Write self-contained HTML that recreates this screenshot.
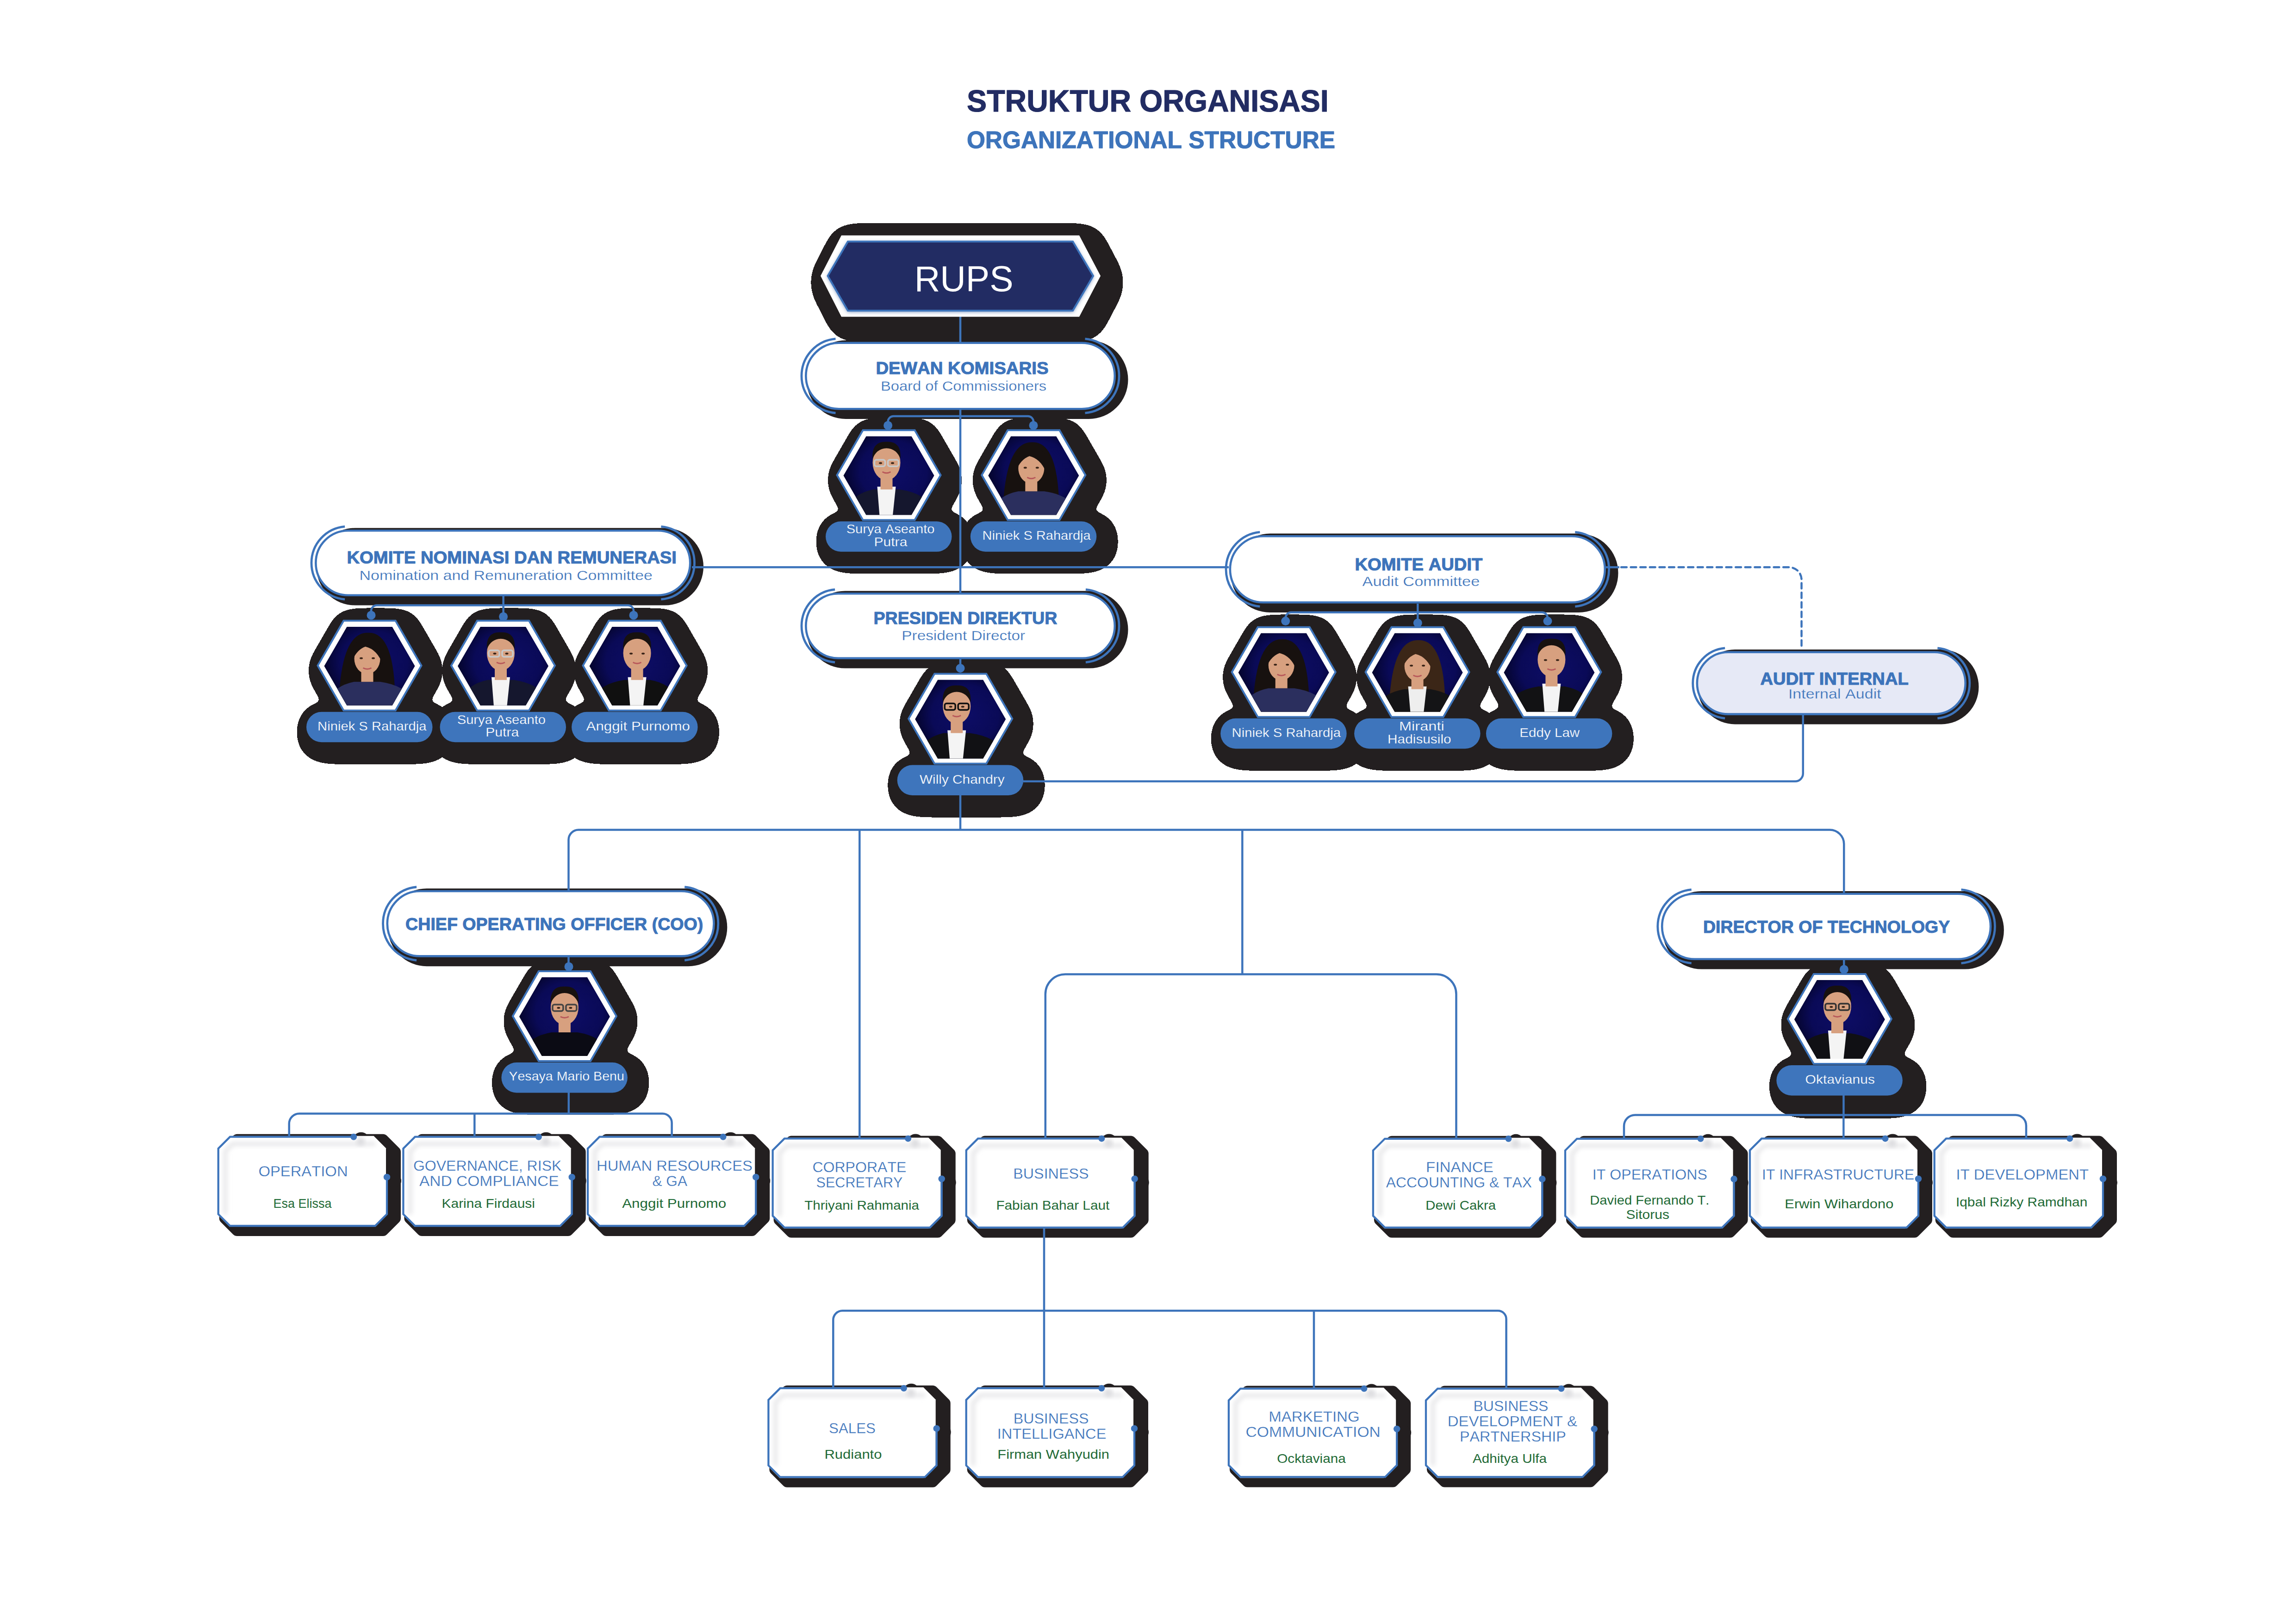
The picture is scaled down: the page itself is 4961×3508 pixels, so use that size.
<!DOCTYPE html>
<html><head><meta charset="utf-8"><title>Struktur Organisasi</title>
<style>html,body{margin:0;padding:0;background:#fff;width:4961px;height:3508px;overflow:hidden}svg{display:block}svg text{font-family:"Liberation Sans",sans-serif}</style>
</head><body>
<svg width="4961" height="3508" viewBox="0 0 4961 3508" font-family="Liberation Sans, sans-serif" style="font-kerning:none">
<defs><clipPath id="ph1"><polygon points="2018.5,1027.3 1969.5,1112.2 1871.5,1112.2 1822.5,1027.3 1871.5,942.4 1969.5,942.4"/></clipPath><clipPath id="ph2"><polygon points="2331.3,1027.3 2282.3,1112.2 2184.3,1112.2 2135.3,1027.3 2184.3,942.4 2282.3,942.4"/></clipPath><clipPath id="ph3"><polygon points="896.5,1438.8 847.5,1523.7 749.5,1523.7 700.5,1438.8 749.5,1353.9 847.5,1353.9"/></clipPath><clipPath id="ph4"><polygon points="1185,1438.8 1136,1523.7 1038,1523.7 989,1438.8 1038,1353.9 1136,1353.9"/></clipPath><clipPath id="ph5"><polygon points="1469.6,1438.8 1420.6,1523.7 1322.6,1523.7 1273.6,1438.8 1322.6,1353.9 1420.6,1353.9"/></clipPath><clipPath id="ph6"><polygon points="2871.7,1452.7 2822.7,1537.6 2724.7,1537.6 2675.7,1452.7 2724.7,1367.8 2822.7,1367.8"/></clipPath><clipPath id="ph7"><polygon points="3160.6,1452.7 3111.6,1537.6 3013.6,1537.6 2964.6,1452.7 3013.6,1367.8 3111.6,1367.8"/></clipPath><clipPath id="ph8"><polygon points="3445.4,1452.7 3396.4,1537.6 3298.4,1537.6 3249.4,1452.7 3298.4,1367.8 3396.4,1367.8"/></clipPath><clipPath id="ph9"><polygon points="2173.2,1553.5 2124.2,1638.4 2026.2,1638.4 1977.2,1553.5 2026.2,1468.6 2124.2,1468.6"/></clipPath><clipPath id="ph10"><polygon points="1317.9,2196 1268.9,2280.9 1170.9,2280.9 1121.9,2196 1170.9,2111.1 1268.9,2111.1"/></clipPath><clipPath id="ph11"><polygon points="4072.9,2202 4023.9,2286.9 3925.9,2286.9 3876.9,2202 3925.9,2117.1 4023.9,2117.1"/></clipPath><clipPath id="oc12"><polygon points="496.2,2453.7 811.5,2453.7 838,2480.2 838,2623.5 811.5,2650 496.2,2650 469.7,2623.5 469.7,2480.2"/></clipPath><clipPath id="oc13"><polygon points="895.9,2453.7 1211.2,2453.7 1237.7,2480.2 1237.7,2623.5 1211.2,2650 895.9,2650 869.4,2623.5 869.4,2480.2"/></clipPath><clipPath id="oc14"><polygon points="1294.5,2453.7 1608.7,2453.7 1635.2,2480.2 1635.2,2623.5 1608.7,2650 1294.5,2650 1268,2623.5 1268,2480.2"/></clipPath><clipPath id="oc15"><polygon points="1694.1,2457.4 2010.2,2457.4 2036.7,2483.9 2036.7,2627.1 2010.2,2653.6 1694.1,2653.6 1667.6,2627.1 1667.6,2483.9"/></clipPath><clipPath id="oc16"><polygon points="2112.3,2457.4 2427.2,2457.4 2453.7,2483.9 2453.7,2627.1 2427.2,2653.6 2112.3,2653.6 2085.8,2627.1 2085.8,2483.9"/></clipPath><clipPath id="oc17"><polygon points="2991.4,2457.8 3307.9,2457.8 3334.4,2484.3 3334.4,2627.1 3307.9,2653.6 2991.4,2653.6 2964.9,2627.1 2964.9,2484.3"/></clipPath><clipPath id="oc18"><polygon points="3406.5,2457.8 3722.1,2457.8 3748.6,2484.3 3748.6,2627.1 3722.1,2653.6 3406.5,2653.6 3380,2627.1 3380,2484.3"/></clipPath><clipPath id="oc19"><polygon points="3805.5,2457.4 4120.5,2457.4 4147,2483.9 4147,2627.1 4120.5,2653.6 3805.5,2653.6 3779,2627.1 3779,2483.9"/></clipPath><clipPath id="oc20"><polygon points="4204.2,2457.4 4519.5,2457.4 4546,2483.9 4546,2627.1 4519.5,2653.6 4204.2,2653.6 4177.7,2627.1 4177.7,2483.9"/></clipPath><clipPath id="oc21"><polygon points="1684.9,2996.7 1999.2,2996.7 2025.7,3023.2 2025.7,3166.2 1999.2,3192.7 1684.9,3192.7 1658.4,3166.2 1658.4,3023.2"/></clipPath><clipPath id="oc22"><polygon points="2112.2,2996.7 2426.5,2996.7 2453,3023.2 2453,3166.2 2426.5,3192.7 2112.2,3192.7 2085.7,3166.2 2085.7,3023.2"/></clipPath><clipPath id="oc23"><polygon points="2679.4,2997.6 2993.7,2997.6 3020.2,3024.1 3020.2,3165.9 2993.7,3192.4 2679.4,3192.4 2652.9,3165.9 2652.9,3024.1"/></clipPath><clipPath id="oc24"><polygon points="3105.5,2997.6 3420.2,2997.6 3446.7,3024.1 3446.7,3165.9 3420.2,3192.4 3105.5,3192.4 3079,3165.9 3079,3024.1"/></clipPath><radialGradient id="bgGrad" cx="0.55" cy="0.45" r="0.6"><stop offset="0" stop-color="#0d0d66"/><stop offset="0.6" stop-color="#0a0a57"/><stop offset="1" stop-color="#03031f"/></radialGradient><filter id="shR" x="-40%" y="-40%" width="180%" height="180%" color-interpolation-filters="sRGB"><feGaussianBlur in="SourceAlpha" stdDeviation="20" result="b"/><feComponentTransfer in="b" result="t"><feFuncA type="discrete" tableValues="0 1 1 1 1 1 1 1 1 1 1 1 1 1 1 1 1 1 1 1 1 1 1 1 1 1 1 1 1 1 1 1 1 1 1 1 1 1 1 1 1 1 1 1 1 1 1 1 1 1 1 1 1 1 1 1 1 1 1 1 1 1 1 1 1 1 1 1 1 1"/></feComponentTransfer><feFlood flood-color="#231f20" result="fl"/><feComposite in="fl" in2="t" operator="in" result="c"/><feOffset in="c" dx="14.3" dy="13.7"/></filter><filter id="shC" x="-40%" y="-40%" width="180%" height="180%" color-interpolation-filters="sRGB"><feGaussianBlur in="SourceAlpha" stdDeviation="18" result="b"/><feComponentTransfer in="b" result="t"><feFuncA type="discrete" tableValues="0 1 1 1 1 1 1 1 1 1 1 1 1 1 1 1 1 1 1 1 1 1 1 1 1 1 1 1 1 1 1 1 1 1 1 1 1 1 1 1 1 1 1 1 1 1 1 1 1 1 1 1 1 1 1 1 1 1 1 1 1 1 1 1 1 1 1 1 1 1"/></feComponentTransfer><feFlood flood-color="#231f20" result="fl"/><feComposite in="fl" in2="t" operator="in" result="c"/><feOffset in="c" dx="12.6" dy="11"/></filter><filter id="shC2" x="-40%" y="-40%" width="180%" height="180%" color-interpolation-filters="sRGB"><feGaussianBlur in="SourceAlpha" stdDeviation="18" result="b"/><feComponentTransfer in="b" result="t"><feFuncA type="discrete" tableValues="0 1 1 1 1 1 1 1 1 1 1 1 1 1 1 1 1 1 1 1 1 1 1 1 1 1 1 1 1 1 1 1 1 1 1 1 1 1 1 1 1 1 1 1 1 1 1 1 1 1 1 1 1 1 1 1 1 1 1 1 1 1 1 1 1 1 1 1 1 1"/></feComponentTransfer><feFlood flood-color="#231f20" result="fl"/><feComposite in="fl" in2="t" operator="in" result="c"/><feOffset in="c" dx="18" dy="13"/></filter><filter id="glow" x="-10%" y="-20%" width="120%" height="140%"><feGaussianBlur stdDeviation="4.5"/></filter><filter id="inner" x="-20%" y="-20%" width="140%" height="140%"><feGaussianBlur stdDeviation="5"/></filter></defs>
<rect width="4961" height="3508" fill="#fff"/>
<g id="shadows"><g filter="url(#shR)"><polygon points="1818,508.4 2332,508.4 2378,596 2332,684.3 1818,684.3 1773,596" fill="#000"/></g>
<rect x="1742.5" y="735" width="695" height="170" rx="85" fill="#231f20"/>
<rect x="683.5" y="1140.5" width="836.5" height="167" rx="83.5" fill="#231f20"/>
<rect x="1742.5" y="1276.5" width="695" height="167" rx="83.5" fill="#231f20"/>
<rect x="2659.1" y="1152.5" width="837.4" height="170.5" rx="85.2" fill="#231f20"/>
<rect x="3668.1" y="1403" width="607.4" height="161.4" rx="80.7" fill="#231f20"/>
<rect x="838" y="1919.2" width="733.3" height="168" rx="84" fill="#231f20"/>
<rect x="3592.4" y="1924.9" width="737.5" height="168.6" rx="84.3" fill="#231f20"/>
<g filter="url(#shC)"><polygon points="2034.5,1026.3 1977.5,1125 1863.5,1125 1806.5,1026.3 1863.5,927.6 1977.5,927.6" fill="#000"/><rect x="1784" y="1126.3" width="272.5" height="65.5" rx="32.8" fill="#000"/></g>
<g filter="url(#shC)"><polygon points="2347.3,1026.3 2290.3,1125 2176.3,1125 2119.3,1026.3 2176.3,927.6 2290.3,927.6" fill="#000"/><rect x="2096.8" y="1126.3" width="272.5" height="65.5" rx="32.8" fill="#000"/></g>
<g filter="url(#shC)"><polygon points="912.5,1437.8 855.5,1536.5 741.5,1536.5 684.5,1437.8 741.5,1339.1 855.5,1339.1" fill="#000"/><rect x="662" y="1537.8" width="272.5" height="65.5" rx="32.8" fill="#000"/></g>
<g filter="url(#shC)"><polygon points="1201,1437.8 1144,1536.5 1030,1536.5 973,1437.8 1030,1339.1 1144,1339.1" fill="#000"/><rect x="950.5" y="1537.8" width="272.5" height="65.5" rx="32.8" fill="#000"/></g>
<g filter="url(#shC)"><polygon points="1485.6,1437.8 1428.6,1536.5 1314.6,1536.5 1257.6,1437.8 1314.6,1339.1 1428.6,1339.1" fill="#000"/><rect x="1235.1" y="1537.8" width="272.5" height="65.5" rx="32.8" fill="#000"/></g>
<g filter="url(#shC)"><polygon points="2887.7,1451.7 2830.7,1550.4 2716.7,1550.4 2659.7,1451.7 2716.7,1353 2830.7,1353" fill="#000"/><rect x="2637.2" y="1551.7" width="272.5" height="65.5" rx="32.8" fill="#000"/></g>
<g filter="url(#shC)"><polygon points="3176.6,1451.7 3119.6,1550.4 3005.6,1550.4 2948.6,1451.7 3005.6,1353 3119.6,1353" fill="#000"/><rect x="2926.1" y="1551.7" width="272.5" height="65.5" rx="32.8" fill="#000"/></g>
<g filter="url(#shC)"><polygon points="3461.4,1451.7 3404.4,1550.4 3290.4,1550.4 3233.4,1451.7 3290.4,1353 3404.4,1353" fill="#000"/><rect x="3210.9" y="1551.7" width="272.5" height="65.5" rx="32.8" fill="#000"/></g>
<g filter="url(#shC)"><polygon points="2189.2,1552.5 2132.2,1651.2 2018.2,1651.2 1961.2,1552.5 2018.2,1453.8 2132.2,1453.8" fill="#000"/><rect x="1938.7" y="1652.5" width="272.5" height="65.5" rx="32.8" fill="#000"/></g>
<g filter="url(#shC)"><polygon points="1333.9,2195 1276.9,2293.7 1162.9,2293.7 1105.9,2195 1162.9,2096.3 1276.9,2096.3" fill="#000"/><rect x="1083.4" y="2295" width="272.5" height="65.5" rx="32.8" fill="#000"/></g>
<g filter="url(#shC2)"><polygon points="4088.9,2201 4031.9,2299.7 3917.9,2299.7 3860.9,2201 3917.9,2102.3 4031.9,2102.3" fill="#000"/><rect x="3838.4" y="2301" width="272.5" height="65.5" rx="32.8" fill="#000"/></g>
<g transform="translate(16,8)"><polygon points="496.2,2453.7 811.5,2453.7 838,2480.2 838,2623.5 811.5,2650 496.2,2650 469.7,2623.5 469.7,2480.2" fill="#231f20" stroke="#231f20" stroke-width="24" stroke-linejoin="round"/><circle cx="764.2" cy="2455.7" r="18" fill="#231f20"/><circle cx="836" cy="2542.7" r="15" fill="#231f20"/></g>
<g transform="translate(16,8)"><polygon points="895.9,2453.7 1211.2,2453.7 1237.7,2480.2 1237.7,2623.5 1211.2,2650 895.9,2650 869.4,2623.5 869.4,2480.2" fill="#231f20" stroke="#231f20" stroke-width="24" stroke-linejoin="round"/><circle cx="1163.9" cy="2455.7" r="18" fill="#231f20"/><circle cx="1235.7" cy="2542.7" r="15" fill="#231f20"/></g>
<g transform="translate(16,8)"><polygon points="1294.5,2453.7 1608.7,2453.7 1635.2,2480.2 1635.2,2623.5 1608.7,2650 1294.5,2650 1268,2623.5 1268,2480.2" fill="#231f20" stroke="#231f20" stroke-width="24" stroke-linejoin="round"/><circle cx="1562.5" cy="2455.7" r="18" fill="#231f20"/><circle cx="1633.2" cy="2542.7" r="15" fill="#231f20"/></g>
<g transform="translate(16,8)"><polygon points="1694.1,2457.4 2010.2,2457.4 2036.7,2483.9 2036.7,2627.1 2010.2,2653.6 1694.1,2653.6 1667.6,2627.1 1667.6,2483.9" fill="#231f20" stroke="#231f20" stroke-width="24" stroke-linejoin="round"/><circle cx="1962.1" cy="2459.4" r="18" fill="#231f20"/><circle cx="2034.7" cy="2546.4" r="15" fill="#231f20"/></g>
<g transform="translate(16,8)"><polygon points="2112.3,2457.4 2427.2,2457.4 2453.7,2483.9 2453.7,2627.1 2427.2,2653.6 2112.3,2653.6 2085.8,2627.1 2085.8,2483.9" fill="#231f20" stroke="#231f20" stroke-width="24" stroke-linejoin="round"/><circle cx="2380.3" cy="2459.4" r="18" fill="#231f20"/><circle cx="2451.7" cy="2546.4" r="15" fill="#231f20"/></g>
<g transform="translate(16,8)"><polygon points="2991.4,2457.8 3307.9,2457.8 3334.4,2484.3 3334.4,2627.1 3307.9,2653.6 2991.4,2653.6 2964.9,2627.1 2964.9,2484.3" fill="#231f20" stroke="#231f20" stroke-width="24" stroke-linejoin="round"/><circle cx="3259.4" cy="2459.8" r="18" fill="#231f20"/><circle cx="3332.4" cy="2546.8" r="15" fill="#231f20"/></g>
<g transform="translate(16,8)"><polygon points="3406.5,2457.8 3722.1,2457.8 3748.6,2484.3 3748.6,2627.1 3722.1,2653.6 3406.5,2653.6 3380,2627.1 3380,2484.3" fill="#231f20" stroke="#231f20" stroke-width="24" stroke-linejoin="round"/><circle cx="3674.5" cy="2459.8" r="18" fill="#231f20"/><circle cx="3746.6" cy="2546.8" r="15" fill="#231f20"/></g>
<g transform="translate(16,8)"><polygon points="3805.5,2457.4 4120.5,2457.4 4147,2483.9 4147,2627.1 4120.5,2653.6 3805.5,2653.6 3779,2627.1 3779,2483.9" fill="#231f20" stroke="#231f20" stroke-width="24" stroke-linejoin="round"/><circle cx="4073.5" cy="2459.4" r="18" fill="#231f20"/><circle cx="4145" cy="2546.4" r="15" fill="#231f20"/></g>
<g transform="translate(16,8)"><polygon points="4204.2,2457.4 4519.5,2457.4 4546,2483.9 4546,2627.1 4519.5,2653.6 4204.2,2653.6 4177.7,2627.1 4177.7,2483.9" fill="#231f20" stroke="#231f20" stroke-width="24" stroke-linejoin="round"/><circle cx="4472.2" cy="2459.4" r="18" fill="#231f20"/><circle cx="4544" cy="2546.4" r="15" fill="#231f20"/></g>
<g transform="translate(16,8)"><polygon points="1684.9,2996.7 1999.2,2996.7 2025.7,3023.2 2025.7,3166.2 1999.2,3192.7 1684.9,3192.7 1658.4,3166.2 1658.4,3023.2" fill="#231f20" stroke="#231f20" stroke-width="24" stroke-linejoin="round"/><circle cx="1952.9" cy="2998.7" r="18" fill="#231f20"/><circle cx="2023.7" cy="3085.7" r="15" fill="#231f20"/></g>
<g transform="translate(16,8)"><polygon points="2112.2,2996.7 2426.5,2996.7 2453,3023.2 2453,3166.2 2426.5,3192.7 2112.2,3192.7 2085.7,3166.2 2085.7,3023.2" fill="#231f20" stroke="#231f20" stroke-width="24" stroke-linejoin="round"/><circle cx="2380.2" cy="2998.7" r="18" fill="#231f20"/><circle cx="2451" cy="3085.7" r="15" fill="#231f20"/></g>
<g transform="translate(16,8)"><polygon points="2679.4,2997.6 2993.7,2997.6 3020.2,3024.1 3020.2,3165.9 2993.7,3192.4 2679.4,3192.4 2652.9,3165.9 2652.9,3024.1" fill="#231f20" stroke="#231f20" stroke-width="24" stroke-linejoin="round"/><circle cx="2947.4" cy="2999.6" r="18" fill="#231f20"/><circle cx="3018.2" cy="3086.6" r="15" fill="#231f20"/></g>
<g transform="translate(16,8)"><polygon points="3105.5,2997.6 3420.2,2997.6 3446.7,3024.1 3446.7,3165.9 3420.2,3192.4 3105.5,3192.4 3079,3165.9 3079,3024.1" fill="#231f20" stroke="#231f20" stroke-width="24" stroke-linejoin="round"/><circle cx="3373.5" cy="2999.6" r="18" fill="#231f20"/><circle cx="3444.7" cy="3086.6" r="15" fill="#231f20"/></g></g>
<g id="lines"><path d="M2075 684 V1443" fill="none" stroke="#3d74bb" stroke-width="4.5"/>
<path d="M1918.6 919 V911 A12 12 0 0 1 1930.6 899 H2221 A12 12 0 0 1 2233 911 V919" fill="none" stroke="#3d74bb" stroke-width="4.5"/>
<path d="M1495 1225.3 H2655" fill="none" stroke="#3d74bb" stroke-width="4.5"/>
<path d="M1087.6 1288 V1332" fill="none" stroke="#3d74bb" stroke-width="4.5"/>
<path d="M802 1329 V1319.5 A12 12 0 0 1 814 1307.5 H1357 A12 12 0 0 1 1369 1319.5 V1329" fill="none" stroke="#3d74bb" stroke-width="4.5"/>
<path d="M3063.3 1304 V1345.8" fill="none" stroke="#3d74bb" stroke-width="4.5"/>
<path d="M2777.7 1341.6 V1334.8 A12 12 0 0 1 2789.7 1322.8 H3332 A12 12 0 0 1 3344 1334.8 V1341.6" fill="none" stroke="#3d74bb" stroke-width="4.5"/>
<path d="M3470 1225.3 H3499" fill="none" stroke="#3d74bb" stroke-width="4.5"/>
<path d="M3503 1225.3 H3865.6 A27 27 0 0 1 3892.6 1252.3 V1402" fill="none" stroke="#3d74bb" stroke-width="4.5" stroke-dasharray="11.8 8.8" stroke-linecap="round"/>
<path d="M3895.8 1545 V1670.8 A17 17 0 0 1 3878.8 1687.8 H2211" fill="none" stroke="#3d74bb" stroke-width="4.5"/>
<path d="M2075 1717 V1792.5" fill="none" stroke="#3d74bb" stroke-width="4.5"/>
<path d="M1228.5 1923 V1814 A21.5 21.5 0 0 1 1250 1792.5 H3953.5 A30.8 30.8 0 0 1 3984.3 1823.3 V1928.4" fill="none" stroke="#3d74bb" stroke-width="4.5"/>
<path d="M1857.3 1792.5 V2457.4" fill="none" stroke="#3d74bb" stroke-width="4.5"/>
<path d="M2684.3 1792.5 V2104.5" fill="none" stroke="#3d74bb" stroke-width="4.5"/>
<path d="M2258.8 2457.4 V2147.5 A43 43 0 0 1 2301.8 2104.5 H3103.5 A43 43 0 0 1 3146.5 2147.5 V2457.8" fill="none" stroke="#3d74bb" stroke-width="4.5"/>
<path d="M1228.5 2067 V2088" fill="none" stroke="#3d74bb" stroke-width="4.5"/>
<path d="M1228.8 2360 V2405.5" fill="none" stroke="#3d74bb" stroke-width="4.5"/>
<path d="M624.7 2453.7 V2427.5 A22 22 0 0 1 646.7 2405.5 H1431.6 A20 20 0 0 1 1451.6 2425.5 V2453.7" fill="none" stroke="#3d74bb" stroke-width="4.5"/>
<path d="M1025.3 2405.5 V2453.7" fill="none" stroke="#3d74bb" stroke-width="4.5"/>
<path d="M3984.3 2074 V2094" fill="none" stroke="#3d74bb" stroke-width="4.5"/>
<path d="M3983.5 2366 V2408.4" fill="none" stroke="#3d74bb" stroke-width="4.5"/>
<path d="M3509 2457.8 V2432.4 A24 24 0 0 1 3533 2408.4 H4355 A23 23 0 0 1 4378 2431.4 V2457.4" fill="none" stroke="#3d74bb" stroke-width="4.5"/>
<path d="M3983.4 2408.4 V2457.4" fill="none" stroke="#3d74bb" stroke-width="4.5"/>
<path d="M2256 2653.6 V2996.7" fill="none" stroke="#3d74bb" stroke-width="4.5"/>
<path d="M1800.3 2996.7 V2851.2 A20 20 0 0 1 1820.3 2831.2 H3236.6 A18 18 0 0 1 3254.6 2849.2 V2997.6" fill="none" stroke="#3d74bb" stroke-width="4.5"/>
<path d="M2839 2831.2 V2997.6" fill="none" stroke="#3d74bb" stroke-width="4.5"/></g>
<g id="shapes"><polygon points="1818,508.4 2332,508.4 2378,596 2332,684.3 1818,684.3 1773,596" fill="#fff"/>
<polygon points="1832,521.8 2318,521.8 2362,596 2318,670.9 1832,670.9 1788.6,596" fill="#5f7bb0" filter="url(#glow)" transform="translate(0,2)"/>
<polygon points="1832,521.8 2318,521.8 2362,596 2318,670.9 1832,670.9 1788.6,596" fill="#222c63" stroke="#3d74bb" stroke-width="4" stroke-linejoin="miter"/>
<path d="M1805.5 731.8 A80.5 80.5 0 0 0 1805.5 892.2" fill="none" stroke="#3d74bb" stroke-width="4.8"/>
<path d="M2344.5 731.8 A80.5 80.5 0 0 1 2344.5 892.2" fill="none" stroke="#3d74bb" stroke-width="4.8"/>
<rect x="1741.3" y="740.8" width="667.4" height="142.4" rx="71.2" fill="#fff" stroke="#3d74bb" stroke-width="4.6"/>
<path d="M745.1 1137.3 A79 79 0 0 0 745.1 1294.7" fill="none" stroke="#3d74bb" stroke-width="4.8"/>
<path d="M1428.4 1137.3 A79 79 0 0 1 1428.4 1294.7" fill="none" stroke="#3d74bb" stroke-width="4.8"/>
<rect x="682.3" y="1146.3" width="808.9" height="139.4" rx="69.7" fill="#fff" stroke="#3d74bb" stroke-width="4.6"/>
<path d="M1804.1 1273.3 A79 79 0 0 0 1804.1 1430.7" fill="none" stroke="#3d74bb" stroke-width="4.8"/>
<path d="M2345.9 1273.3 A79 79 0 0 1 2345.9 1430.7" fill="none" stroke="#3d74bb" stroke-width="4.8"/>
<rect x="1741.3" y="1282.3" width="667.4" height="139.4" rx="69.7" fill="#fff" stroke="#3d74bb" stroke-width="4.6"/>
<path d="M2722.3 1149.3 A80.8 80.8 0 0 0 2722.3 1310.2" fill="none" stroke="#3d74bb" stroke-width="4.8"/>
<path d="M3403.3 1149.3 A80.8 80.8 0 0 1 3403.3 1310.2" fill="none" stroke="#3d74bb" stroke-width="4.8"/>
<rect x="2657.9" y="1158.3" width="809.8" height="142.9" rx="71.5" fill="#fff" stroke="#3d74bb" stroke-width="4.6"/>
<path d="M3727.2 1399.8 A76.2 76.2 0 0 0 3727.2 1551.6" fill="none" stroke="#3d74bb" stroke-width="4.8"/>
<path d="M4186.4 1399.8 A76.2 76.2 0 0 1 4186.4 1551.6" fill="none" stroke="#3d74bb" stroke-width="4.8"/>
<rect x="3666.9" y="1408.8" width="579.8" height="133.8" rx="66.9" fill="#e6e9f6" stroke="#3d74bb" stroke-width="4.6"/>
<path d="M900.1 1916 A79.5 79.5 0 0 0 900.1 2074.4" fill="none" stroke="#3d74bb" stroke-width="4.8"/>
<path d="M1479.2 1916 A79.5 79.5 0 0 1 1479.2 2074.4" fill="none" stroke="#3d74bb" stroke-width="4.8"/>
<rect x="836.8" y="1925" width="705.7" height="140.4" rx="70.2" fill="#fff" stroke="#3d74bb" stroke-width="4.6"/>
<path d="M3654.7 1921.7 A79.8 79.8 0 0 0 3654.7 2080.7" fill="none" stroke="#3d74bb" stroke-width="4.8"/>
<path d="M4237.6 1921.7 A79.8 79.8 0 0 1 4237.6 2080.7" fill="none" stroke="#3d74bb" stroke-width="4.8"/>
<rect x="3591.2" y="1930.7" width="709.9" height="141" rx="70.5" fill="#fff" stroke="#3d74bb" stroke-width="4.6"/>
<polygon points="2032.5,1026.3 1976.5,1123.3 1864.5,1123.3 1808.5,1026.3 1864.5,929.3 1976.5,929.3" fill="#fff" stroke="#3d74bb" stroke-width="4" stroke-linejoin="miter"/>
<g clip-path="url(#ph1)"><rect x="1820.5" y="937.3" width="200" height="180" fill="url(#bgGrad)"/><path d="M1820.5 1127.3 L1830.5 1097.3 Q1845.5 1065.3 1887.5 1057.3 L1943.5 1057.3 Q1998.5 1065.3 2012.5 1097.3 L2020.5 1127.3 Z" fill="#15172e"/><path d="M1895.5 1051.3 L1935.5 1051.3 L1927.5 1127.3 L1901.5 1127.3 Z" fill="#f4f4f4"/><rect x="1902.5" y="1024.3" width="26" height="33" fill="#d7a07f"/><ellipse cx="1915.5" cy="999.3" rx="30" ry="38" fill="#d7a07f"/><path d="M1885.5 991.3 Q1882.5 952.3 1916.5 954.3 Q1948.5 953.3 1945.5 991.3 Q1937.5 969.3 1915.5 968.3 Q1893.5 969.3 1885.5 991.3 Z" fill="#17110f"/><g fill="none" stroke="#c8c8c8" stroke-width="3.5"><rect x="1889.5" y="993.3" width="23" height="14" rx="4"/><rect x="1918.5" y="993.3" width="23" height="14" rx="4"/></g><g fill="#3a2418"><ellipse cx="1902.5" cy="1000.3" rx="3.5" ry="2"/><ellipse cx="1928.5" cy="1000.3" rx="3.5" ry="2"/></g><path d="M1906.5 1019.3 Q1915.5 1024.3 1924.5 1019.3" fill="none" stroke="#b8585a" stroke-width="3"/></g>
<rect x="1784" y="1126.3" width="272.5" height="65.5" rx="32.8" fill="#3e75bc"/>
<polygon points="2345.3,1026.3 2289.3,1123.3 2177.3,1123.3 2121.3,1026.3 2177.3,929.3 2289.3,929.3" fill="#fff" stroke="#3d74bb" stroke-width="4" stroke-linejoin="miter"/>
<g clip-path="url(#ph2)"><rect x="2133.3" y="937.3" width="200" height="180" fill="url(#bgGrad)"/><path d="M2166.3 1127.3 Q2168.3 953.3 2230.3 955.3 Q2292.3 953.3 2288.3 1127.3 L2288.3 1127.3 L2166.3 1127.3 Z" fill="#17110f"/><path d="M2133.3 1127.3 L2143.3 1101.3 Q2158.3 1069.3 2200.3 1061.3 L2256.3 1061.3 Q2311.3 1069.3 2325.3 1101.3 L2333.3 1127.3 Z" fill="#2b2f5e"/><rect x="2215.3" y="1030.3" width="26" height="31" fill="#d7a07f"/><ellipse cx="2228.3" cy="1011.3" rx="28" ry="33" fill="#d7a07f"/><path d="M2192.3 1025.3 Q2190.3 967.3 2230.3 965.3 Q2268.3 967.3 2262.3 1025.3 Q2250.3 991.3 2224.3 985.3 Q2202.3 993.3 2192.3 1025.3 Z" fill="#17110f"/><g fill="#3a2418"><ellipse cx="2215.3" cy="1010.3" rx="3.5" ry="2"/><ellipse cx="2241.3" cy="1010.3" rx="3.5" ry="2"/></g><path d="M2219.3 1031.3 Q2228.3 1036.3 2237.3 1031.3" fill="none" stroke="#b8585a" stroke-width="3"/></g>
<rect x="2096.8" y="1126.3" width="272.5" height="65.5" rx="32.8" fill="#3e75bc"/>
<polygon points="910.5,1437.8 854.5,1534.8 742.5,1534.8 686.5,1437.8 742.5,1340.8 854.5,1340.8" fill="#fff" stroke="#3d74bb" stroke-width="4" stroke-linejoin="miter"/>
<g clip-path="url(#ph3)"><rect x="698.5" y="1348.8" width="200" height="180" fill="url(#bgGrad)"/><path d="M731.5 1538.8 Q733.5 1364.8 795.5 1366.8 Q857.5 1364.8 853.5 1538.8 L853.5 1538.8 L731.5 1538.8 Z" fill="#17110f"/><path d="M698.5 1538.8 L708.5 1512.8 Q723.5 1480.8 765.5 1472.8 L821.5 1472.8 Q876.5 1480.8 890.5 1512.8 L898.5 1538.8 Z" fill="#2b2f5e"/><rect x="780.5" y="1441.8" width="26" height="31" fill="#d7a07f"/><ellipse cx="793.5" cy="1422.8" rx="28" ry="33" fill="#d7a07f"/><path d="M757.5 1436.8 Q755.5 1378.8 795.5 1376.8 Q833.5 1378.8 827.5 1436.8 Q815.5 1402.8 789.5 1396.8 Q767.5 1404.8 757.5 1436.8 Z" fill="#17110f"/><g fill="#3a2418"><ellipse cx="780.5" cy="1421.8" rx="3.5" ry="2"/><ellipse cx="806.5" cy="1421.8" rx="3.5" ry="2"/></g><path d="M784.5 1442.8 Q793.5 1447.8 802.5 1442.8" fill="none" stroke="#b8585a" stroke-width="3"/></g>
<rect x="662" y="1537.8" width="272.5" height="65.5" rx="32.8" fill="#3e75bc"/>
<polygon points="1199,1437.8 1143,1534.8 1031,1534.8 975,1437.8 1031,1340.8 1143,1340.8" fill="#fff" stroke="#3d74bb" stroke-width="4" stroke-linejoin="miter"/>
<g clip-path="url(#ph4)"><rect x="987" y="1348.8" width="200" height="180" fill="url(#bgGrad)"/><path d="M987 1538.8 L997 1508.8 Q1012 1476.8 1054 1468.8 L1110 1468.8 Q1165 1476.8 1179 1508.8 L1187 1538.8 Z" fill="#15172e"/><path d="M1062 1462.8 L1102 1462.8 L1094 1538.8 L1068 1538.8 Z" fill="#f4f4f4"/><rect x="1069" y="1435.8" width="26" height="33" fill="#d7a07f"/><ellipse cx="1082" cy="1410.8" rx="30" ry="38" fill="#d7a07f"/><path d="M1052 1402.8 Q1049 1363.8 1083 1365.8 Q1115 1364.8 1112 1402.8 Q1104 1380.8 1082 1379.8 Q1060 1380.8 1052 1402.8 Z" fill="#17110f"/><g fill="none" stroke="#c8c8c8" stroke-width="3.5"><rect x="1056" y="1404.8" width="23" height="14" rx="4"/><rect x="1085" y="1404.8" width="23" height="14" rx="4"/></g><g fill="#3a2418"><ellipse cx="1069" cy="1411.8" rx="3.5" ry="2"/><ellipse cx="1095" cy="1411.8" rx="3.5" ry="2"/></g><path d="M1073 1430.8 Q1082 1435.8 1091 1430.8" fill="none" stroke="#b8585a" stroke-width="3"/></g>
<rect x="950.5" y="1537.8" width="272.5" height="65.5" rx="32.8" fill="#3e75bc"/>
<polygon points="1483.6,1437.8 1427.6,1534.8 1315.6,1534.8 1259.6,1437.8 1315.6,1340.8 1427.6,1340.8" fill="#fff" stroke="#3d74bb" stroke-width="4" stroke-linejoin="miter"/>
<g clip-path="url(#ph5)"><rect x="1271.6" y="1348.8" width="200" height="180" fill="url(#bgGrad)"/><path d="M1271.6 1538.8 L1281.6 1508.8 Q1296.6 1476.8 1348.6 1468.8 L1404.6 1468.8 Q1449.6 1476.8 1463.6 1508.8 L1471.6 1538.8 Z" fill="#101010"/><path d="M1356.6 1462.8 L1396.6 1462.8 L1388.6 1538.8 L1362.6 1538.8 Z" fill="#f4f4f4"/><rect x="1363.6" y="1435.8" width="26" height="33" fill="#d7a07f"/><ellipse cx="1376.6" cy="1410.8" rx="30" ry="38" fill="#d7a07f"/><path d="M1346.6 1402.8 Q1343.6 1363.8 1377.6 1365.8 Q1409.6 1364.8 1406.6 1402.8 Q1398.6 1380.8 1376.6 1379.8 Q1354.6 1380.8 1346.6 1402.8 Z" fill="#17110f"/><g fill="#3a2418"><ellipse cx="1363.6" cy="1411.8" rx="3.5" ry="2"/><ellipse cx="1389.6" cy="1411.8" rx="3.5" ry="2"/></g><path d="M1367.6 1430.8 Q1376.6 1435.8 1385.6 1430.8" fill="none" stroke="#b8585a" stroke-width="3"/></g>
<rect x="1235.1" y="1537.8" width="272.5" height="65.5" rx="32.8" fill="#3e75bc"/>
<polygon points="2885.7,1451.7 2829.7,1548.7 2717.7,1548.7 2661.7,1451.7 2717.7,1354.7 2829.7,1354.7" fill="#fff" stroke="#3d74bb" stroke-width="4" stroke-linejoin="miter"/>
<g clip-path="url(#ph6)"><rect x="2673.7" y="1362.7" width="200" height="180" fill="url(#bgGrad)"/><path d="M2706.7 1552.7 Q2708.7 1378.7 2770.7 1380.7 Q2832.7 1378.7 2828.7 1552.7 L2828.7 1552.7 L2706.7 1552.7 Z" fill="#17110f"/><path d="M2673.7 1552.7 L2683.7 1526.7 Q2698.7 1494.7 2740.7 1486.7 L2796.7 1486.7 Q2851.7 1494.7 2865.7 1526.7 L2873.7 1552.7 Z" fill="#2b2f5e"/><rect x="2755.7" y="1455.7" width="26" height="31" fill="#d7a07f"/><ellipse cx="2768.7" cy="1436.7" rx="28" ry="33" fill="#d7a07f"/><path d="M2732.7 1450.7 Q2730.7 1392.7 2770.7 1390.7 Q2808.7 1392.7 2802.7 1450.7 Q2790.7 1416.7 2764.7 1410.7 Q2742.7 1418.7 2732.7 1450.7 Z" fill="#17110f"/><g fill="#3a2418"><ellipse cx="2755.7" cy="1435.7" rx="3.5" ry="2"/><ellipse cx="2781.7" cy="1435.7" rx="3.5" ry="2"/></g><path d="M2759.7 1456.7 Q2768.7 1461.7 2777.7 1456.7" fill="none" stroke="#b8585a" stroke-width="3"/></g>
<rect x="2637.2" y="1551.7" width="272.5" height="65.5" rx="32.8" fill="#3e75bc"/>
<polygon points="3174.6,1451.7 3118.6,1548.7 3006.6,1548.7 2950.6,1451.7 3006.6,1354.7 3118.6,1354.7" fill="#fff" stroke="#3d74bb" stroke-width="4" stroke-linejoin="miter"/>
<g clip-path="url(#ph7)"><rect x="2962.6" y="1362.7" width="200" height="180" fill="url(#bgGrad)"/><path d="M3000.6 1552.7 Q3002.6 1380.7 3064.6 1382.7 Q3126.6 1380.7 3122.6 1552.7 L3122.6 1552.7 L3000.6 1552.7 Z" fill="#3b2617"/><path d="M2962.6 1552.7 L2972.6 1528.7 Q2987.6 1496.7 3034.6 1488.7 L3090.6 1488.7 Q3140.6 1496.7 3154.6 1528.7 L3162.6 1552.7 Z" fill="#141416"/><path d="M3042.6 1482.7 L3082.6 1482.7 L3074.6 1552.7 L3048.6 1552.7 Z" fill="#eeeeee"/><rect x="3049.6" y="1457.7" width="26" height="31" fill="#d7a07f"/><ellipse cx="3062.6" cy="1438.7" rx="28" ry="33" fill="#d7a07f"/><path d="M3026.6 1452.7 Q3024.6 1394.7 3064.6 1392.7 Q3102.6 1394.7 3096.6 1452.7 Q3084.6 1418.7 3058.6 1412.7 Q3036.6 1420.7 3026.6 1452.7 Z" fill="#3b2617"/><g fill="#3a2418"><ellipse cx="3049.6" cy="1437.7" rx="3.5" ry="2"/><ellipse cx="3075.6" cy="1437.7" rx="3.5" ry="2"/></g><path d="M3053.6 1458.7 Q3062.6 1463.7 3071.6 1458.7" fill="none" stroke="#b8585a" stroke-width="3"/></g>
<rect x="2926.1" y="1551.7" width="272.5" height="65.5" rx="32.8" fill="#3e75bc"/>
<polygon points="3459.4,1451.7 3403.4,1548.7 3291.4,1548.7 3235.4,1451.7 3291.4,1354.7 3403.4,1354.7" fill="#fff" stroke="#3d74bb" stroke-width="4" stroke-linejoin="miter"/>
<g clip-path="url(#ph8)"><rect x="3247.4" y="1362.7" width="200" height="180" fill="url(#bgGrad)"/><path d="M3247.4 1552.7 L3257.4 1522.7 Q3272.4 1490.7 3324.4 1482.7 L3380.4 1482.7 Q3425.4 1490.7 3439.4 1522.7 L3447.4 1552.7 Z" fill="#121214"/><path d="M3332.4 1476.7 L3372.4 1476.7 L3364.4 1552.7 L3338.4 1552.7 Z" fill="#f4f4f4"/><rect x="3339.4" y="1449.7" width="26" height="33" fill="#d7a07f"/><ellipse cx="3352.4" cy="1424.7" rx="30" ry="38" fill="#d7a07f"/><path d="M3322.4 1416.7 Q3319.4 1377.7 3353.4 1379.7 Q3385.4 1378.7 3382.4 1416.7 Q3374.4 1394.7 3352.4 1393.7 Q3330.4 1394.7 3322.4 1416.7 Z" fill="#17110f"/><g fill="#3a2418"><ellipse cx="3339.4" cy="1425.7" rx="3.5" ry="2"/><ellipse cx="3365.4" cy="1425.7" rx="3.5" ry="2"/></g><path d="M3343.4 1444.7 Q3352.4 1449.7 3361.4 1444.7" fill="none" stroke="#b8585a" stroke-width="3"/></g>
<rect x="3210.9" y="1551.7" width="272.5" height="65.5" rx="32.8" fill="#3e75bc"/>
<polygon points="2187.2,1552.5 2131.2,1649.5 2019.2,1649.5 1963.2,1552.5 2019.2,1455.5 2131.2,1455.5" fill="#fff" stroke="#3d74bb" stroke-width="4" stroke-linejoin="miter"/>
<g clip-path="url(#ph9)"><rect x="1975.2" y="1463.5" width="200" height="180" fill="url(#bgGrad)"/><path d="M1975.2 1653.5 L1985.2 1623.5 Q2000.2 1591.5 2039.2 1583.5 L2095.2 1583.5 Q2153.2 1591.5 2167.2 1623.5 L2175.2 1653.5 Z" fill="#111114"/><path d="M2047.2 1577.5 L2087.2 1577.5 L2079.2 1653.5 L2053.2 1653.5 Z" fill="#f4f4f4"/><rect x="2054.2" y="1550.5" width="26" height="33" fill="#d7a07f"/><ellipse cx="2067.2" cy="1525.5" rx="30" ry="38" fill="#d7a07f"/><path d="M2037.2 1517.5 Q2034.2 1478.5 2068.2 1480.5 Q2100.2 1479.5 2097.2 1517.5 Q2089.2 1495.5 2067.2 1494.5 Q2045.2 1495.5 2037.2 1517.5 Z" fill="#17110f"/><g fill="none" stroke="#111" stroke-width="3.5"><rect x="2041.2" y="1519.5" width="23" height="14" rx="4"/><rect x="2070.2" y="1519.5" width="23" height="14" rx="4"/></g><g fill="#3a2418"><ellipse cx="2054.2" cy="1526.5" rx="3.5" ry="2"/><ellipse cx="2080.2" cy="1526.5" rx="3.5" ry="2"/></g><path d="M2058.2 1545.5 Q2067.2 1550.5 2076.2 1545.5" fill="none" stroke="#b8585a" stroke-width="3"/></g>
<rect x="1938.7" y="1652.5" width="272.5" height="65.5" rx="32.8" fill="#3e75bc"/>
<polygon points="1331.9,2195 1275.9,2292 1163.9,2292 1107.9,2195 1163.9,2098 1275.9,2098" fill="#fff" stroke="#3d74bb" stroke-width="4" stroke-linejoin="miter"/>
<g clip-path="url(#ph10)"><rect x="1119.9" y="2106" width="200" height="180" fill="url(#bgGrad)"/><path d="M1119.9 2296 L1129.9 2270 Q1144.9 2238 1191.9 2230 L1247.9 2230 Q1297.9 2238 1311.9 2270 L1319.9 2296 Z" fill="#0b0b14"/><rect x="1206.9" y="2201" width="26" height="29" fill="#d7a07f"/><ellipse cx="1219.9" cy="2176" rx="30" ry="38" fill="#d7a07f"/><path d="M1189.9 2168 Q1186.9 2129 1220.9 2131 Q1252.9 2130 1249.9 2168 Q1241.9 2146 1219.9 2145 Q1197.9 2146 1189.9 2168 Z" fill="#17110f"/><g fill="none" stroke="#444" stroke-width="3.5"><rect x="1193.9" y="2170" width="23" height="14" rx="4"/><rect x="1222.9" y="2170" width="23" height="14" rx="4"/></g><g fill="#3a2418"><ellipse cx="1206.9" cy="2177" rx="3.5" ry="2"/><ellipse cx="1232.9" cy="2177" rx="3.5" ry="2"/></g><path d="M1210.9 2196 Q1219.9 2201 1228.9 2196" fill="none" stroke="#b8585a" stroke-width="3"/></g>
<rect x="1083.4" y="2295" width="272.5" height="65.5" rx="32.8" fill="#3e75bc"/>
<polygon points="4086.9,2201 4030.9,2298 3918.9,2298 3862.9,2201 3918.9,2104 4030.9,2104" fill="#fff" stroke="#3d74bb" stroke-width="4" stroke-linejoin="miter"/>
<g clip-path="url(#ph11)"><rect x="3874.9" y="2112" width="200" height="180" fill="url(#bgGrad)"/><path d="M3874.9 2302 L3884.9 2272 Q3899.9 2240 3941.9 2232 L3997.9 2232 Q4052.9 2240 4066.9 2272 L4074.9 2302 Z" fill="#101014"/><path d="M3949.9 2226 L3989.9 2226 L3981.9 2302 L3955.9 2302 Z" fill="#f4f4f4"/><rect x="3956.9" y="2199" width="26" height="33" fill="#d7a07f"/><ellipse cx="3969.9" cy="2174" rx="30" ry="38" fill="#d7a07f"/><path d="M3939.9 2166 Q3936.9 2127 3970.9 2129 Q4002.9 2128 3999.9 2166 Q3991.9 2144 3969.9 2143 Q3947.9 2144 3939.9 2166 Z" fill="#17110f"/><g fill="none" stroke="#333" stroke-width="3.5"><rect x="3943.9" y="2168" width="23" height="14" rx="4"/><rect x="3972.9" y="2168" width="23" height="14" rx="4"/></g><g fill="#3a2418"><ellipse cx="3956.9" cy="2175" rx="3.5" ry="2"/><ellipse cx="3982.9" cy="2175" rx="3.5" ry="2"/></g><path d="M3960.9 2194 Q3969.9 2199 3978.9 2194" fill="none" stroke="#b8585a" stroke-width="3"/></g>
<rect x="3838.4" y="2301" width="272.5" height="65.5" rx="32.8" fill="#3e75bc"/>
<polygon points="496.2,2453.7 807.5,2453.7 834,2480.2 834,2623.5 807.5,2650 496.2,2650 469.7,2623.5 469.7,2480.2" fill="#fff"/>
<g clip-path="url(#oc12)"><polyline points="486.7,2623.5 486.7,2487 503,2470.7 811.5,2470.7" fill="none" stroke="#e8e8ea" stroke-width="9" filter="url(#inner)"/><circle cx="779.2" cy="2465.7" r="9" fill="#dcdcdf" filter="url(#inner)"/></g>
<path d="M764.2 2455.7 H497 L471.7 2481 V2622.7 L497 2648 H810.7 L836 2622.7 V2542.7" fill="none" stroke="#3d74bb" stroke-width="4.3" stroke-linejoin="miter"/>
<circle cx="764.2" cy="2455.7" r="7" fill="#3d74bb"/><circle cx="836" cy="2542.7" r="7.2" fill="#3d74bb"/>
<polygon points="895.9,2453.7 1207.2,2453.7 1233.7,2480.2 1233.7,2623.5 1207.2,2650 895.9,2650 869.4,2623.5 869.4,2480.2" fill="#fff"/>
<g clip-path="url(#oc13)"><polyline points="886.4,2623.5 886.4,2487 902.7,2470.7 1211.2,2470.7" fill="none" stroke="#e8e8ea" stroke-width="9" filter="url(#inner)"/><circle cx="1178.9" cy="2465.7" r="9" fill="#dcdcdf" filter="url(#inner)"/></g>
<path d="M1163.9 2455.7 H896.7 L871.4 2481 V2622.7 L896.7 2648 H1210.4 L1235.7 2622.7 V2542.7" fill="none" stroke="#3d74bb" stroke-width="4.3" stroke-linejoin="miter"/>
<circle cx="1163.9" cy="2455.7" r="7" fill="#3d74bb"/><circle cx="1235.7" cy="2542.7" r="7.2" fill="#3d74bb"/>
<polygon points="1294.5,2453.7 1604.7,2453.7 1631.2,2480.2 1631.2,2623.5 1604.7,2650 1294.5,2650 1268,2623.5 1268,2480.2" fill="#fff"/>
<g clip-path="url(#oc14)"><polyline points="1285,2623.5 1285,2487 1301.3,2470.7 1608.7,2470.7" fill="none" stroke="#e8e8ea" stroke-width="9" filter="url(#inner)"/><circle cx="1577.5" cy="2465.7" r="9" fill="#dcdcdf" filter="url(#inner)"/></g>
<path d="M1562.5 2455.7 H1295.3 L1270 2481 V2622.7 L1295.3 2648 H1607.9 L1633.2 2622.7 V2542.7" fill="none" stroke="#3d74bb" stroke-width="4.3" stroke-linejoin="miter"/>
<circle cx="1562.5" cy="2455.7" r="7" fill="#3d74bb"/><circle cx="1633.2" cy="2542.7" r="7.2" fill="#3d74bb"/>
<polygon points="1694.1,2457.4 2006.2,2457.4 2032.7,2483.9 2032.7,2627.1 2006.2,2653.6 1694.1,2653.6 1667.6,2627.1 1667.6,2483.9" fill="#fff"/>
<g clip-path="url(#oc15)"><polyline points="1684.6,2627.1 1684.6,2490.7 1700.9,2474.4 2010.2,2474.4" fill="none" stroke="#e8e8ea" stroke-width="9" filter="url(#inner)"/><circle cx="1977.1" cy="2469.4" r="9" fill="#dcdcdf" filter="url(#inner)"/></g>
<path d="M1962.1 2459.4 H1694.9 L1669.6 2484.7 V2626.3 L1694.9 2651.6 H2009.4 L2034.7 2626.3 V2546.4" fill="none" stroke="#3d74bb" stroke-width="4.3" stroke-linejoin="miter"/>
<circle cx="1962.1" cy="2459.4" r="7" fill="#3d74bb"/><circle cx="2034.7" cy="2546.4" r="7.2" fill="#3d74bb"/>
<polygon points="2112.3,2457.4 2423.2,2457.4 2449.7,2483.9 2449.7,2627.1 2423.2,2653.6 2112.3,2653.6 2085.8,2627.1 2085.8,2483.9" fill="#fff"/>
<g clip-path="url(#oc16)"><polyline points="2102.8,2627.1 2102.8,2490.7 2119.1,2474.4 2427.2,2474.4" fill="none" stroke="#e8e8ea" stroke-width="9" filter="url(#inner)"/><circle cx="2395.3" cy="2469.4" r="9" fill="#dcdcdf" filter="url(#inner)"/></g>
<path d="M2380.3 2459.4 H2113.1 L2087.8 2484.7 V2626.3 L2113.1 2651.6 H2426.4 L2451.7 2626.3 V2546.4" fill="none" stroke="#3d74bb" stroke-width="4.3" stroke-linejoin="miter"/>
<circle cx="2380.3" cy="2459.4" r="7" fill="#3d74bb"/><circle cx="2451.7" cy="2546.4" r="7.2" fill="#3d74bb"/>
<polygon points="2991.4,2457.8 3303.9,2457.8 3330.4,2484.3 3330.4,2627.1 3303.9,2653.6 2991.4,2653.6 2964.9,2627.1 2964.9,2484.3" fill="#fff"/>
<g clip-path="url(#oc17)"><polyline points="2981.9,2627.1 2981.9,2491.1 2998.2,2474.8 3307.9,2474.8" fill="none" stroke="#e8e8ea" stroke-width="9" filter="url(#inner)"/><circle cx="3274.4" cy="2469.8" r="9" fill="#dcdcdf" filter="url(#inner)"/></g>
<path d="M3259.4 2459.8 H2992.2 L2966.9 2485.1 V2626.3 L2992.2 2651.6 H3307.1 L3332.4 2626.3 V2546.8" fill="none" stroke="#3d74bb" stroke-width="4.3" stroke-linejoin="miter"/>
<circle cx="3259.4" cy="2459.8" r="7" fill="#3d74bb"/><circle cx="3332.4" cy="2546.8" r="7.2" fill="#3d74bb"/>
<polygon points="3406.5,2457.8 3718.1,2457.8 3744.6,2484.3 3744.6,2627.1 3718.1,2653.6 3406.5,2653.6 3380,2627.1 3380,2484.3" fill="#fff"/>
<g clip-path="url(#oc18)"><polyline points="3397,2627.1 3397,2491.1 3413.3,2474.8 3722.1,2474.8" fill="none" stroke="#e8e8ea" stroke-width="9" filter="url(#inner)"/><circle cx="3689.5" cy="2469.8" r="9" fill="#dcdcdf" filter="url(#inner)"/></g>
<path d="M3674.5 2459.8 H3407.3 L3382 2485.1 V2626.3 L3407.3 2651.6 H3721.3 L3746.6 2626.3 V2546.8" fill="none" stroke="#3d74bb" stroke-width="4.3" stroke-linejoin="miter"/>
<circle cx="3674.5" cy="2459.8" r="7" fill="#3d74bb"/><circle cx="3746.6" cy="2546.8" r="7.2" fill="#3d74bb"/>
<polygon points="3805.5,2457.4 4116.5,2457.4 4143,2483.9 4143,2627.1 4116.5,2653.6 3805.5,2653.6 3779,2627.1 3779,2483.9" fill="#fff"/>
<g clip-path="url(#oc19)"><polyline points="3796,2627.1 3796,2490.7 3812.3,2474.4 4120.5,2474.4" fill="none" stroke="#e8e8ea" stroke-width="9" filter="url(#inner)"/><circle cx="4088.5" cy="2469.4" r="9" fill="#dcdcdf" filter="url(#inner)"/></g>
<path d="M4073.5 2459.4 H3806.3 L3781 2484.7 V2626.3 L3806.3 2651.6 H4119.7 L4145 2626.3 V2546.4" fill="none" stroke="#3d74bb" stroke-width="4.3" stroke-linejoin="miter"/>
<circle cx="4073.5" cy="2459.4" r="7" fill="#3d74bb"/><circle cx="4145" cy="2546.4" r="7.2" fill="#3d74bb"/>
<polygon points="4204.2,2457.4 4515.5,2457.4 4542,2483.9 4542,2627.1 4515.5,2653.6 4204.2,2653.6 4177.7,2627.1 4177.7,2483.9" fill="#fff"/>
<g clip-path="url(#oc20)"><polyline points="4194.7,2627.1 4194.7,2490.7 4211,2474.4 4519.5,2474.4" fill="none" stroke="#e8e8ea" stroke-width="9" filter="url(#inner)"/><circle cx="4487.2" cy="2469.4" r="9" fill="#dcdcdf" filter="url(#inner)"/></g>
<path d="M4472.2 2459.4 H4205 L4179.7 2484.7 V2626.3 L4205 2651.6 H4518.7 L4544 2626.3 V2546.4" fill="none" stroke="#3d74bb" stroke-width="4.3" stroke-linejoin="miter"/>
<circle cx="4472.2" cy="2459.4" r="7" fill="#3d74bb"/><circle cx="4544" cy="2546.4" r="7.2" fill="#3d74bb"/>
<polygon points="1684.9,2996.7 1995.2,2996.7 2021.7,3023.2 2021.7,3166.2 1995.2,3192.7 1684.9,3192.7 1658.4,3166.2 1658.4,3023.2" fill="#fff"/>
<g clip-path="url(#oc21)"><polyline points="1675.4,3166.2 1675.4,3030 1691.7,3013.7 1999.2,3013.7" fill="none" stroke="#e8e8ea" stroke-width="9" filter="url(#inner)"/><circle cx="1967.9" cy="3008.7" r="9" fill="#dcdcdf" filter="url(#inner)"/></g>
<path d="M1952.9 2998.7 H1685.7 L1660.4 3024 V3165.4 L1685.7 3190.7 H1998.4 L2023.7 3165.4 V3085.7" fill="none" stroke="#3d74bb" stroke-width="4.3" stroke-linejoin="miter"/>
<circle cx="1952.9" cy="2998.7" r="7" fill="#3d74bb"/><circle cx="2023.7" cy="3085.7" r="7.2" fill="#3d74bb"/>
<polygon points="2112.2,2996.7 2422.5,2996.7 2449,3023.2 2449,3166.2 2422.5,3192.7 2112.2,3192.7 2085.7,3166.2 2085.7,3023.2" fill="#fff"/>
<g clip-path="url(#oc22)"><polyline points="2102.7,3166.2 2102.7,3030 2119,3013.7 2426.5,3013.7" fill="none" stroke="#e8e8ea" stroke-width="9" filter="url(#inner)"/><circle cx="2395.2" cy="3008.7" r="9" fill="#dcdcdf" filter="url(#inner)"/></g>
<path d="M2380.2 2998.7 H2113 L2087.7 3024 V3165.4 L2113 3190.7 H2425.7 L2451 3165.4 V3085.7" fill="none" stroke="#3d74bb" stroke-width="4.3" stroke-linejoin="miter"/>
<circle cx="2380.2" cy="2998.7" r="7" fill="#3d74bb"/><circle cx="2451" cy="3085.7" r="7.2" fill="#3d74bb"/>
<polygon points="2679.4,2997.6 2989.7,2997.6 3016.2,3024.1 3016.2,3165.9 2989.7,3192.4 2679.4,3192.4 2652.9,3165.9 2652.9,3024.1" fill="#fff"/>
<g clip-path="url(#oc23)"><polyline points="2669.9,3165.9 2669.9,3030.9 2686.2,3014.6 2993.7,3014.6" fill="none" stroke="#e8e8ea" stroke-width="9" filter="url(#inner)"/><circle cx="2962.4" cy="3009.6" r="9" fill="#dcdcdf" filter="url(#inner)"/></g>
<path d="M2947.4 2999.6 H2680.2 L2654.9 3024.9 V3165.1 L2680.2 3190.4 H2992.9 L3018.2 3165.1 V3086.6" fill="none" stroke="#3d74bb" stroke-width="4.3" stroke-linejoin="miter"/>
<circle cx="2947.4" cy="2999.6" r="7" fill="#3d74bb"/><circle cx="3018.2" cy="3086.6" r="7.2" fill="#3d74bb"/>
<polygon points="3105.5,2997.6 3416.2,2997.6 3442.7,3024.1 3442.7,3165.9 3416.2,3192.4 3105.5,3192.4 3079,3165.9 3079,3024.1" fill="#fff"/>
<g clip-path="url(#oc24)"><polyline points="3096,3165.9 3096,3030.9 3112.3,3014.6 3420.2,3014.6" fill="none" stroke="#e8e8ea" stroke-width="9" filter="url(#inner)"/><circle cx="3388.5" cy="3009.6" r="9" fill="#dcdcdf" filter="url(#inner)"/></g>
<path d="M3373.5 2999.6 H3106.3 L3081 3024.9 V3165.1 L3106.3 3190.4 H3419.4 L3444.7 3165.1 V3086.6" fill="none" stroke="#3d74bb" stroke-width="4.3" stroke-linejoin="miter"/>
<circle cx="3373.5" cy="2999.6" r="7" fill="#3d74bb"/><circle cx="3444.7" cy="3086.6" r="7.2" fill="#3d74bb"/>
<circle cx="1918.6" cy="919" r="9.5" fill="#3d74bb"/>
<circle cx="2233" cy="919" r="9.5" fill="#3d74bb"/>
<circle cx="802" cy="1329" r="9.5" fill="#3d74bb"/>
<circle cx="1087.6" cy="1332" r="9.5" fill="#3d74bb"/>
<circle cx="1369" cy="1329" r="9.5" fill="#3d74bb"/>
<circle cx="2777.7" cy="1341.6" r="9.5" fill="#3d74bb"/>
<circle cx="3063.3" cy="1345.8" r="9.5" fill="#3d74bb"/>
<circle cx="3344" cy="1341.6" r="9.5" fill="#3d74bb"/>
<circle cx="2075" cy="1443.4" r="9.5" fill="#3d74bb"/>
<circle cx="1229" cy="2088" r="9.5" fill="#3d74bb"/>
<circle cx="3984.4" cy="2094" r="9.5" fill="#3d74bb"/></g>
<g id="texts"><text x="2089.1" y="241.3" font-size="66.5" fill="#222c63" font-weight="bold" stroke="#222c63" stroke-width="1.1" stroke-linejoin="round" textLength="781.7" lengthAdjust="spacingAndGlyphs">STRUKTUR ORGANISASI</text>
<text x="2088.9" y="319.5" font-size="51.5" fill="#3d74bb" font-weight="bold" stroke="#3d74bb" stroke-width="1.1" stroke-linejoin="round" textLength="796.1" lengthAdjust="spacingAndGlyphs">ORGANIZATIONAL STRUCTURE</text>
<text x="1975.7" y="629" font-size="77" fill="#ffffff" textLength="213.8" lengthAdjust="spacingAndGlyphs">RUPS</text>
<text x="1892.4" y="808" font-size="37" fill="#3d74bb" font-weight="bold" stroke="#3d74bb" stroke-width="1.1" stroke-linejoin="round" textLength="373.1" lengthAdjust="spacingAndGlyphs">DEWAN KOMISARIS</text>
<text x="1902.9" y="843.7" font-size="30" fill="#3d74bb" textLength="358.3" lengthAdjust="spacingAndGlyphs" stroke="#fff" stroke-width="0.3">Board of Commissioners</text>
<text x="749.4" y="1217.4" font-size="37" fill="#3d74bb" font-weight="bold" stroke="#3d74bb" stroke-width="1.1" stroke-linejoin="round" textLength="712.6" lengthAdjust="spacingAndGlyphs">KOMITE NOMINASI DAN REMUNERASI</text>
<text x="776.6" y="1253.4" font-size="30" fill="#3d74bb" textLength="633.4" lengthAdjust="spacingAndGlyphs" stroke="#fff" stroke-width="0.3">Nomination and Remuneration Committee</text>
<text x="1887.5" y="1348" font-size="37" fill="#3d74bb" font-weight="bold" stroke="#3d74bb" stroke-width="1.1" stroke-linejoin="round" textLength="396.9" lengthAdjust="spacingAndGlyphs">PRESIDEN DIREKTUR</text>
<text x="1948.3" y="1383" font-size="30" fill="#3d74bb" textLength="266.9" lengthAdjust="spacingAndGlyphs" stroke="#fff" stroke-width="0.3">President Director</text>
<text x="2927.4" y="1231.6" font-size="37" fill="#3d74bb" font-weight="bold" stroke="#3d74bb" stroke-width="1.1" stroke-linejoin="round" textLength="276" lengthAdjust="spacingAndGlyphs">KOMITE AUDIT</text>
<text x="2943.6" y="1266.3" font-size="30" fill="#3d74bb" textLength="253.7" lengthAdjust="spacingAndGlyphs" stroke="#fff" stroke-width="0.3">Audit Committee</text>
<text x="3803.5" y="1479" font-size="37" fill="#3d74bb" font-weight="bold" stroke="#3d74bb" stroke-width="1.1" stroke-linejoin="round" textLength="320.3" lengthAdjust="spacingAndGlyphs">AUDIT INTERNAL</text>
<text x="3863.9" y="1508.5" font-size="30" fill="#3d74bb" textLength="200.8" lengthAdjust="spacingAndGlyphs" stroke="#e6e9f6" stroke-width="0.3">Internal Audit</text>
<text x="876.1" y="2009" font-size="37" fill="#3d74bb" font-weight="bold" stroke="#3d74bb" stroke-width="1.1" stroke-linejoin="round" textLength="643.2" lengthAdjust="spacingAndGlyphs">CHIEF OPERATING OFFICER (COO)</text>
<text x="3680" y="2014.7" font-size="37" fill="#3d74bb" font-weight="bold" stroke="#3d74bb" stroke-width="1.1" stroke-linejoin="round" textLength="533.3" lengthAdjust="spacingAndGlyphs">DIRECTOR OF TECHNOLOGY</text>
<text x="1828.7" y="1152" font-size="28" fill="#ffffff" textLength="190.8" lengthAdjust="spacingAndGlyphs" stroke="#3e75bc" stroke-width="0.3">Surya Aseanto</text>
<text x="1888.4" y="1179.5" font-size="28" fill="#ffffff" textLength="72" lengthAdjust="spacingAndGlyphs" stroke="#3e75bc" stroke-width="0.3">Putra</text>
<text x="2122.6" y="1165.5" font-size="28" fill="#ffffff" textLength="234.1" lengthAdjust="spacingAndGlyphs" stroke="#3e75bc" stroke-width="0.3">Niniek S Rahardja</text>
<text x="686.1" y="1577.5" font-size="28" fill="#ffffff" textLength="235.4" lengthAdjust="spacingAndGlyphs" stroke="#3e75bc" stroke-width="0.3">Niniek S Rahardja</text>
<text x="987.7" y="1563.5" font-size="28" fill="#ffffff" textLength="191.3" lengthAdjust="spacingAndGlyphs" stroke="#3e75bc" stroke-width="0.3">Surya Aseanto</text>
<text x="1049.2" y="1591" font-size="28" fill="#ffffff" textLength="72.1" lengthAdjust="spacingAndGlyphs" stroke="#3e75bc" stroke-width="0.3">Putra</text>
<text x="1266.5" y="1577.5" font-size="28" fill="#ffffff" textLength="224.5" lengthAdjust="spacingAndGlyphs" stroke="#3e75bc" stroke-width="0.3">Anggit Purnomo</text>
<text x="2661.6" y="1591.8" font-size="28" fill="#ffffff" textLength="235.3" lengthAdjust="spacingAndGlyphs" stroke="#3e75bc" stroke-width="0.3">Niniek S Rahardja</text>
<text x="3022.9" y="1578" font-size="28" fill="#ffffff" textLength="97.8" lengthAdjust="spacingAndGlyphs" stroke="#3e75bc" stroke-width="0.3">Miranti</text>
<text x="2998.1" y="1606.4" font-size="28" fill="#ffffff" textLength="137.5" lengthAdjust="spacingAndGlyphs" stroke="#3e75bc" stroke-width="0.3">Hadisusilo</text>
<text x="3283.3" y="1591.8" font-size="28" fill="#ffffff" textLength="129.9" lengthAdjust="spacingAndGlyphs" stroke="#3e75bc" stroke-width="0.3">Eddy Law</text>
<text x="1986.9" y="1692.6" font-size="28" fill="#ffffff" textLength="183.8" lengthAdjust="spacingAndGlyphs" stroke="#3e75bc" stroke-width="0.3">Willy Chandry</text>
<text x="1099.4" y="2334.2" font-size="28" fill="#ffffff" textLength="249.5" lengthAdjust="spacingAndGlyphs" stroke="#3e75bc" stroke-width="0.3">Yesaya Mario Benu</text>
<text x="3900.6" y="2341.2" font-size="28" fill="#ffffff" textLength="150.5" lengthAdjust="spacingAndGlyphs" stroke="#3e75bc" stroke-width="0.3">Oktavianus</text>
<text x="558.4" y="2540.5" font-size="31" fill="#3d74bb" textLength="193.2" lengthAdjust="spacingAndGlyphs" stroke="#fff" stroke-width="0.3">OPERATION</text>
<text x="590.6" y="2609" font-size="28" fill="#1f6a36" textLength="125.9" lengthAdjust="spacingAndGlyphs">Esa Elissa</text>
<text x="892.9" y="2528.5" font-size="31" fill="#3d74bb" textLength="320.5" lengthAdjust="spacingAndGlyphs" stroke="#fff" stroke-width="0.3">GOVERNANCE, RISK</text>
<text x="905.9" y="2561.6" font-size="31" fill="#3d74bb" textLength="301.7" lengthAdjust="spacingAndGlyphs" stroke="#fff" stroke-width="0.3">AND COMPLIANCE</text>
<text x="954.5" y="2609" font-size="28" fill="#1f6a36" textLength="201.5" lengthAdjust="spacingAndGlyphs">Karina Firdausi</text>
<text x="1289" y="2528.5" font-size="31" fill="#3d74bb" textLength="336.9" lengthAdjust="spacingAndGlyphs" stroke="#fff" stroke-width="0.3">HUMAN RESOURCES</text>
<text x="1409.4" y="2561.6" font-size="31" fill="#3d74bb" textLength="75.7" lengthAdjust="spacingAndGlyphs" stroke="#fff" stroke-width="0.3">&amp; GA</text>
<text x="1344.2" y="2609" font-size="28" fill="#1f6a36" textLength="225" lengthAdjust="spacingAndGlyphs">Anggit Purnomo</text>
<text x="1755.4" y="2532" font-size="31" fill="#3d74bb" textLength="203" lengthAdjust="spacingAndGlyphs" stroke="#fff" stroke-width="0.3">CORPORATE</text>
<text x="1763.6" y="2564.7" font-size="31" fill="#3d74bb" textLength="186.8" lengthAdjust="spacingAndGlyphs" stroke="#fff" stroke-width="0.3">SECRETARY</text>
<text x="1738.3" y="2612.5" font-size="28" fill="#1f6a36" textLength="247.7" lengthAdjust="spacingAndGlyphs">Thriyani Rahmania</text>
<text x="2189.3" y="2546.3" font-size="31" fill="#3d74bb" textLength="163.2" lengthAdjust="spacingAndGlyphs" stroke="#fff" stroke-width="0.3">BUSINESS</text>
<text x="2152.4" y="2612.5" font-size="28" fill="#1f6a36" textLength="244.9" lengthAdjust="spacingAndGlyphs">Fabian Bahar Laut</text>
<text x="3081.1" y="2532" font-size="31" fill="#3d74bb" textLength="145.8" lengthAdjust="spacingAndGlyphs" stroke="#fff" stroke-width="0.3">FINANCE</text>
<text x="2994.8" y="2565" font-size="31" fill="#3d74bb" textLength="315.3" lengthAdjust="spacingAndGlyphs" stroke="#fff" stroke-width="0.3">ACCOUNTING &amp; TAX</text>
<text x="3080.3" y="2613" font-size="28" fill="#1f6a36" textLength="151.7" lengthAdjust="spacingAndGlyphs">Dewi Cakra</text>
<text x="3440.8" y="2547.5" font-size="31" fill="#3d74bb" textLength="248.1" lengthAdjust="spacingAndGlyphs" stroke="#fff" stroke-width="0.3">IT OPERATIONS</text>
<text x="3435.2" y="2602.3" font-size="28" fill="#1f6a36" textLength="258.3" lengthAdjust="spacingAndGlyphs">Davied Fernando T.</text>
<text x="3513.6" y="2633.4" font-size="28" fill="#1f6a36" textLength="93.4" lengthAdjust="spacingAndGlyphs">Sitorus</text>
<text x="3807.1" y="2547.5" font-size="31" fill="#3d74bb" textLength="329.1" lengthAdjust="spacingAndGlyphs" stroke="#fff" stroke-width="0.3">IT INFRASTRUCTURE</text>
<text x="3856.3" y="2609.5" font-size="28" fill="#1f6a36" textLength="235" lengthAdjust="spacingAndGlyphs">Erwin Wihardono</text>
<text x="4226.5" y="2547.5" font-size="31" fill="#3d74bb" textLength="286.6" lengthAdjust="spacingAndGlyphs" stroke="#fff" stroke-width="0.3">IT DEVELOPMENT</text>
<text x="4225.9" y="2606" font-size="28" fill="#1f6a36" textLength="284.5" lengthAdjust="spacingAndGlyphs">Iqbal Rizky Ramdhan</text>
<text x="1791.1" y="3096" font-size="31" fill="#3d74bb" textLength="100.9" lengthAdjust="spacingAndGlyphs" stroke="#fff" stroke-width="0.3">SALES</text>
<text x="1781.4" y="3150.8" font-size="28" fill="#1f6a36" textLength="124.1" lengthAdjust="spacingAndGlyphs">Rudianto</text>
<text x="2189.7" y="3075.1" font-size="31" fill="#3d74bb" textLength="162.8" lengthAdjust="spacingAndGlyphs" stroke="#fff" stroke-width="0.3">BUSINESS</text>
<text x="2154.8" y="3107.7" font-size="31" fill="#3d74bb" textLength="235.6" lengthAdjust="spacingAndGlyphs" stroke="#fff" stroke-width="0.3">INTELLIGANCE</text>
<text x="2155.3" y="3150.5" font-size="28" fill="#1f6a36" textLength="241.7" lengthAdjust="spacingAndGlyphs">Firman Wahyudin</text>
<text x="2741.2" y="3071.3" font-size="31" fill="#3d74bb" textLength="196.5" lengthAdjust="spacingAndGlyphs" stroke="#fff" stroke-width="0.3">MARKETING</text>
<text x="2691.6" y="3103.8" font-size="31" fill="#3d74bb" textLength="291.3" lengthAdjust="spacingAndGlyphs" stroke="#fff" stroke-width="0.3">COMMUNICATION</text>
<text x="2759.3" y="3160" font-size="28" fill="#1f6a36" textLength="148.4" lengthAdjust="spacingAndGlyphs">Ocktaviana</text>
<text x="3183.4" y="3047.7" font-size="31" fill="#3d74bb" textLength="162.1" lengthAdjust="spacingAndGlyphs" stroke="#fff" stroke-width="0.3">BUSINESS</text>
<text x="3127.7" y="3081" font-size="31" fill="#3d74bb" textLength="280.3" lengthAdjust="spacingAndGlyphs" stroke="#fff" stroke-width="0.3">DEVELOPMENT &amp;</text>
<text x="3154" y="3114.4" font-size="31" fill="#3d74bb" textLength="229.8" lengthAdjust="spacingAndGlyphs" stroke="#fff" stroke-width="0.3">PARTNERSHIP</text>
<text x="3181.9" y="3160" font-size="28" fill="#1f6a36" textLength="160.1" lengthAdjust="spacingAndGlyphs">Adhitya Ulfa</text></g>
</svg>
</body></html>
